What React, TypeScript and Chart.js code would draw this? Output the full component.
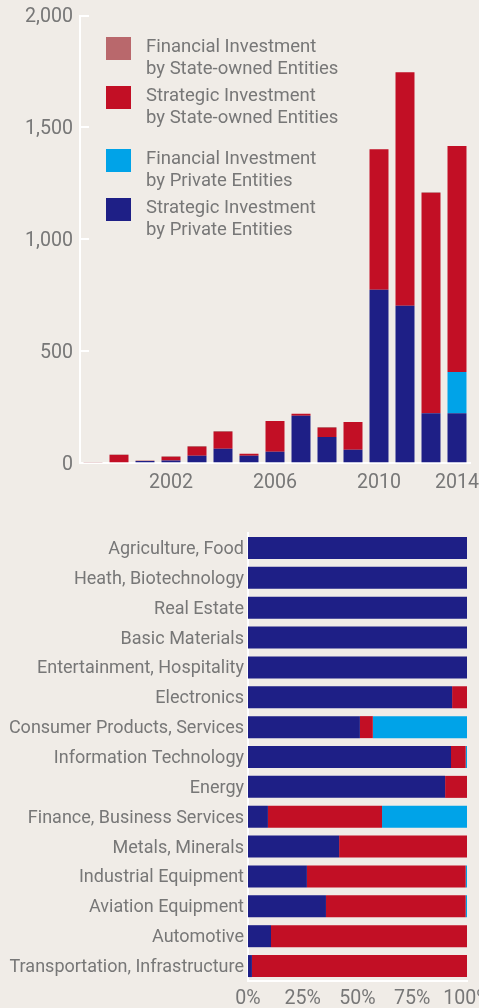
import React, { useEffect, useRef } from 'react';
import { Chart, registerables } from 'chart.js';

Chart.register(...registerables);

// ---------- Top chart data ----------
const years = ['2000', '2001', '2002', '2003', '2004', '2005', '2006', '2007', '2008', '2009', '2010', '2011', '2012', '2013', '2014'];
const yearTickLabels = ['', '', '', '2002', '', '', '', '2006', '', '', '', '2010', '', '', '2014'];
const strategicPrivate = [0, 5, 10, 12, 34, 65, 34, 52, 212, 117, 61, 775, 704, 224, 224];
const financialPrivate = [0, 0, 0, 0, 0, 0, 0, 0, 0, 0, 0, 0, 0, 0, 184];
const strategicState = [0, 32, 0, 16, 39, 75, 9, 137, 9, 41, 123, 628, 1043, 983, 1009];
const financialState = [4, 2, 3, 3, 4, 4, 0, 0, 0, 4, 0, 0, 0, 4, 0];
const yTicks = [0, 500, 1000, 1500, 2000];

// ---------- Bottom chart data ----------
const sectors = [
  'Agriculture, Food',
  'Heath, Biotechnology',
  'Real Estate',
  'Basic Materials',
  'Entertainment, Hospitality',
  'Electronics',
  'Consumer Products, Services',
  'Information Technology',
  'Energy',
  'Finance, Business Services',
  'Metals, Minerals',
  'Industrial Equipment',
  'Aviation Equipment',
  'Automotive',
  'Transportation, Infrastructure',
];
const sectorStrategicPrivate = [100, 100, 100, 100, 100, 93.2, 51.1, 92.7, 90.0, 9.1, 41.6, 26.9, 35.6, 10.5, 1.8];
const sectorStrategicState = [0, 0, 0, 0, 0, 6.8, 5.9, 6.7, 10.0, 52.1, 58.4, 72.5, 63.8, 89.5, 98.2];
const sectorFinancialPrivate = [0, 0, 0, 0, 0, 0, 43.0, 0.6, 0, 38.8, 0, 0.6, 0.6, 0, 0];
const sectorFinancialState = [0, 0, 0, 0, 0, 0, 0, 0, 0, 0, 0, 0, 0, 0, 0];
const pctTicks = [0, 25, 50, 75, 100];

const legendItems = [
  { lines: ['Financial Investment', 'by State-owned Entities'], color: '#b9686c', top: 35 },
  { lines: ['Strategic Investment', 'by State-owned Entities'], color: '#c20f25', top: 84 },
  { lines: ['Financial Investment', 'by Private Entities'], color: '#00a3e8', top: 147 },
  { lines: ['Strategic Investment', 'by Private Entities'], color: '#1e1f86', top: 196 },
];

const NAVY = '#1e1f86';
const CYAN = '#00a3e8';
const RED = '#c20f25';
const PINK = '#b9686c';
const TEXT = '#777777';
const BG = '#f0ece7';
const FONT = 'Roboto';
const NUM_SIZE = 19.6;

export default function App() {
  const topRef = useRef<HTMLCanvasElement | null>(null);
  const botRef = useRef<HTMLCanvasElement | null>(null);

  useEffect(() => {
    Chart.defaults.font.family = FONT;
    Chart.defaults.color = TEXT;

    const top = new Chart(topRef.current as HTMLCanvasElement, {
      type: 'bar',
      data: {
        labels: years,
        datasets: [
          { label: 'Strategic Investment by Private Entities', data: strategicPrivate, backgroundColor: NAVY },
          { label: 'Financial Investment by Private Entities', data: financialPrivate, backgroundColor: CYAN },
          { label: 'Strategic Investment by State-owned Entities', data: strategicState, backgroundColor: RED },
          { label: 'Financial Investment by State-owned Entities', data: financialState, backgroundColor: PINK },
        ],
      },
      options: {
        responsive: false,
        animation: false,
        layout: { padding: { top: 15.5, right: 9, bottom: 0, left: 0 } },
        plugins: { legend: { display: false }, tooltip: { enabled: false } },
        datasets: { bar: { barPercentage: 0.73, categoryPercentage: 1 } },
        scales: {
          x: {
            stacked: true,
            grid: { display: false, drawTicks: false },
            border: { display: true, color: '#ffffff', width: 2 },
            ticks: {
              autoSkip: false,
              maxRotation: 0,
              padding: 8,
              font: { size: NUM_SIZE, family: FONT },
              color: TEXT,
              callback: (_v: any, i: number) => yearTickLabels[i],
            },
            afterFit: (s: any) => {
              s.height = 36.7;
              s.paddingLeft = 0;
              s.paddingRight = 0;
            },
          },
          y: {
            stacked: true,
            min: 0,
            max: 2000,
            afterBuildTicks: (s: any) => {
              s.ticks = yTicks.map((v) => ({ value: v }));
            },
            grid: { display: true, drawOnChartArea: false, drawTicks: true, tickLength: -9, color: '#ffffff', lineWidth: 2 },
            border: { display: true, color: '#ffffff', width: 2 },
            ticks: {
              padding: 16,
              labelOffset: 2,
              font: { size: NUM_SIZE, family: FONT },
              color: TEXT,
              callback: (v: any) => Number(v).toLocaleString('en-US'),
            },
            afterFit: (s: any) => {
              s.width = 80;
              s.paddingTop = 0;
              s.paddingBottom = 0;
            },
          },
        },
      },
    });

    const bot = new Chart(botRef.current as HTMLCanvasElement, {
      type: 'bar',
      data: {
        labels: sectors,
        datasets: [
          { label: 'Strategic Investment by Private Entities', data: sectorStrategicPrivate, backgroundColor: NAVY },
          { label: 'Strategic Investment by State-owned Entities', data: sectorStrategicState, backgroundColor: RED },
          { label: 'Financial Investment by Private Entities', data: sectorFinancialPrivate, backgroundColor: CYAN },
          { label: 'Financial Investment by State-owned Entities', data: sectorFinancialState, backgroundColor: PINK },
        ],
      },
      options: {
        indexAxis: 'y',
        responsive: false,
        animation: false,
        layout: { padding: { top: 33, right: 12, bottom: 0, left: 0 } },
        plugins: { legend: { display: false }, tooltip: { enabled: false } },
        datasets: { bar: { barPercentage: 0.737, categoryPercentage: 1 } },
        scales: {
          x: {
            stacked: true,
            min: 0,
            max: 100,
            afterBuildTicks: (s: any) => {
              s.ticks = pctTicks.map((v) => ({ value: v }));
            },
            grid: { display: false, drawTicks: false },
            border: { display: true, color: '#ffffff', width: 2 },
            ticks: {
              padding: 6,
              maxRotation: 0,
              font: { size: NUM_SIZE, family: FONT },
              color: TEXT,
              callback: (v: any) => v + '%',
            },
            afterFit: (s: any) => {
              s.height = 27;
              s.paddingLeft = 0;
              s.paddingRight = 0;
            },
          },
          y: {
            stacked: true,
            grid: { display: false, drawTicks: false },
            border: { display: true, color: '#ffffff', width: 2 },
            ticks: {
              autoSkip: false,
              padding: 4,
              labelOffset: 1.5,
              font: { size: 18, family: FONT },
              color: TEXT,
            },
            afterFit: (s: any) => {
              s.width = 248;
              s.paddingTop = 0;
              s.paddingBottom = 0;
            },
          },
        },
      },
    });

    return () => {
      top.destroy();
      bot.destroy();
    };
  }, []);

  return (
    <div style={{ position: 'relative', width: 479, height: 1008, background: BG, overflow: 'hidden', fontFamily: FONT }}>
      <style>{`html,body{margin:0;padding:0;background:${BG};}`}</style>
      <div style={{ position: 'absolute', left: 0, top: 0, width: 479, height: 500 }}>
        <canvas ref={topRef} width={479} height={500} style={{ display: 'block' }} />
      </div>
      {legendItems.map((it, i) => (
        <div key={i} style={{ position: 'absolute', left: 106, top: it.top }}>
          <div style={{ position: 'absolute', left: 0, top: 2, width: 25, height: 23, background: it.color }} />
          <div style={{ position: 'absolute', left: 40, top: 0, whiteSpace: 'nowrap', fontSize: 18.5, lineHeight: '22px', color: TEXT }}>
            {it.lines.map((l, j) => (
              <div key={j}>{l}</div>
            ))}
          </div>
        </div>
      ))}
      <div style={{ position: 'absolute', left: 0, top: 500, width: 479, height: 508 }}>
        <canvas ref={botRef} width={479} height={508} style={{ display: 'block' }} />
      </div>
    </div>
  );
}
